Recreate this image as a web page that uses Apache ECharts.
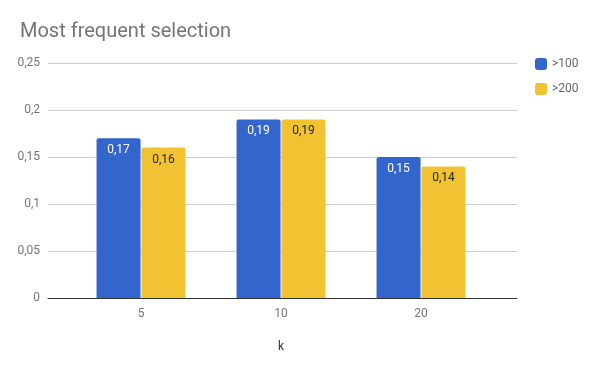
<!DOCTYPE html>
<html>
<head>
<meta charset="utf-8">
<script src="https://cdn.jsdelivr.net/npm/echarts@6/dist/echarts.min.js"></script>
<style>
  html, body { margin: 0; padding: 0; background: #fff; }
  #chart { width: 600px; height: 371px; }
</style>
</head>
<body>
<div id="chart"></div>
<script>
const categories = ['5', '10', '20'];
const seriesNames = ['>100', '>200'];
const over100 = [0.17, 0.19, 0.15];
const over200 = [0.16, 0.19, 0.14];
const colors = ['#3366cc', '#f1c232'];
const yTicks = { min: 0, max: 0.25, interval: 0.05 };

const comma = (v) => String(v).replace('.', ',');

const chart = echarts.init(document.getElementById('chart'));
const font = 'Roboto, sans-serif';

// grid 0: bars (narrower, like Sheets), grid 1: full-width gridlines + y labels
chart.setOption({
  animation: false,
  textStyle: { fontFamily: font },
  title: {
    text: 'Most frequent selection',
    left: 15,
    top: 17,
    textStyle: { fontFamily: font, fontSize: 20, fontWeight: 'normal', color: '#757575' },
  },
  legend: {
    orient: 'vertical',
    left: 530,
    top: 53,
    itemWidth: 12,
    itemHeight: 12,
    itemGap: 13,
    icon: 'roundRect',
    textStyle: { fontFamily: font, fontSize: 12, color: '#666' },
    data: seriesNames,
  },
  grid: [
    { left: 71, right: 109, top: 63, bottom: 73 },
    { left: 48, right: 83, top: 63, bottom: 73 },
  ],
  xAxis: [
    {
      type: 'category',
      gridIndex: 0,
      data: categories,
      name: 'k',
      nameLocation: 'middle',
      nameGap: 43,
      nameTextStyle: { fontFamily: font, fontSize: 12, color: '#333' },
      axisTick: { show: false },
      axisLine: { show: false },
      axisLabel: { fontFamily: font, fontSize: 12, color: '#757575', margin: 10 },
    },
    {
      type: 'value',
      gridIndex: 1,
      min: 0,
      max: 1,
      axisLabel: { show: false },
      axisTick: { show: false },
      splitLine: { show: false },
      axisLine: { show: true, onZero: false, lineStyle: { color: '#333', width: 1 } },
    },
  ],
  yAxis: [
    {
      type: 'value',
      gridIndex: 0,
      ...yTicks,
      show: false,
      splitLine: { show: false },
    },
    {
      type: 'value',
      gridIndex: 1,
      ...yTicks,
      axisLine: { show: false },
      axisTick: { show: false },
      splitLine: { lineStyle: { color: '#cccccc' } },
      axisLabel: {
        fontFamily: font,
        fontSize: 12,
        color: '#757575',
        margin: 8,
        formatter: (v) => comma(+v.toFixed(2)),
      },
    },
  ],
  series: [
    {
      name: seriesNames[0],
      type: 'bar',
      xAxisIndex: 0,
      yAxisIndex: 0,
      data: over100,
      barWidth: 44,
      barGap: '2%',
      z: 3,
      itemStyle: { color: colors[0], borderRadius: [2, 2, 0, 0] },
      label: {
        show: true,
        position: 'insideTop',
        distance: 6,
        color: '#fff',
        fontFamily: font,
        fontSize: 12,
        formatter: (p) => comma(p.value),
      },
    },
    {
      name: seriesNames[1],
      type: 'bar',
      xAxisIndex: 0,
      yAxisIndex: 0,
      data: over200,
      barWidth: 44,
      z: 3,
      itemStyle: { color: colors[1], borderRadius: [2, 2, 0, 0] },
      label: {
        show: true,
        position: 'insideTop',
        distance: 6,
        color: '#222',
        fontFamily: font,
        fontSize: 12,
        formatter: (p) => comma(p.value),
      },
    },
  ],
});
</script>
</body>
</html>
